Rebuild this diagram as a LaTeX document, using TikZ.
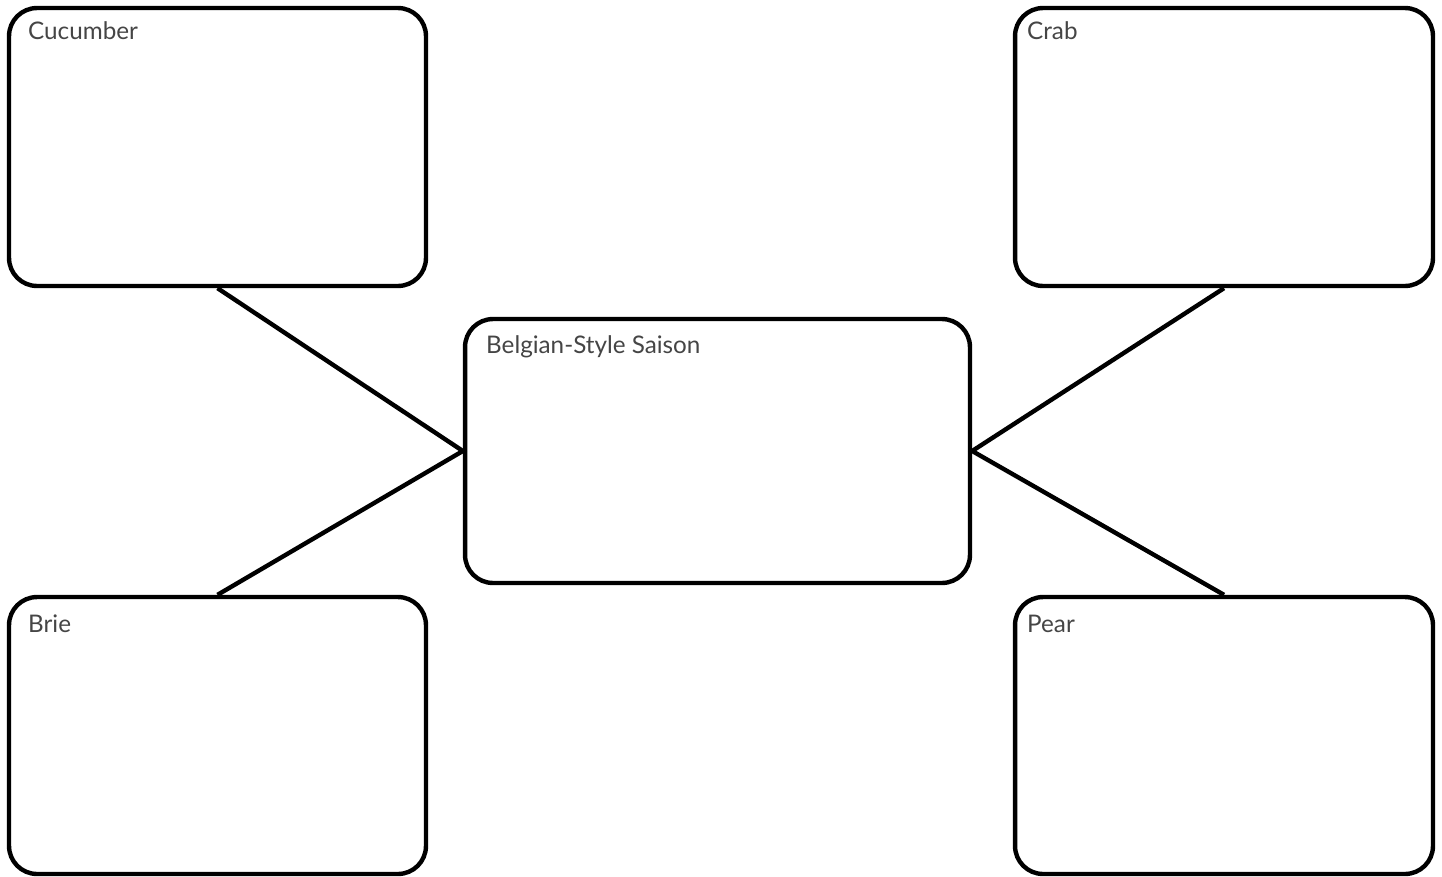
\documentclass[tikz,border=0pt]{standalone}
\usepackage{fontspec}
\setmainfont{Lato}
\usepackage{tikz}
\usetikzlibrary{calc}
\definecolor{txt}{HTML}{454545}
\tikzset{l/.style={font=\fontsize{13.8}{14}\selectfont, text=txt, inner sep=0pt, anchor=north west}}
\tikzset{bx/.style={draw, line width=2.5pt, rounded corners=0.56cm}}

\begin{document}
\begin{tikzpicture}[x=0.02cm,y=-0.02cm]
        \useasboundingbox (0,0) rectangle (1442,876);
        \node [bx, minimum width=8.34cm, minimum height=5.56cm] (cuc) at (217.5,147) {};
        \node [l] at ($(cuc.north west)+(21,15)$) {Cucumber};
        \node [bx, minimum width=8.36cm, minimum height=5.56cm] (crab) at (1224,147) {};
        \node [l] at ($(crab.north west)+(14,15)$) {Crab};
        \node [bx, minimum width=10.1cm, minimum height=5.28cm] (sai) at (717.5,451) {};
        \node [l] at ($(sai.north west)+(23,18)$) {Belgian-Style Saison};
        \node [bx, minimum width=8.34cm, minimum height=5.54cm] (brie) at (217.5,735.5) {};
        \node [l] at ($(brie.north west)+(21,20)$) {Brie};
        \node [bx, minimum width=8.36cm, minimum height=5.54cm] (pear) at (1224,735.5) {};
        \node [l] at ($(pear.north west)+(14,20)$) {Pear};
        \draw [line width=2.5pt] (cuc.south) -- (sai.west) -- (brie.north);
        \draw [line width=2.5pt] (crab.south) -- (sai.east) -- (pear.north);
\end{tikzpicture}
\end{document}
